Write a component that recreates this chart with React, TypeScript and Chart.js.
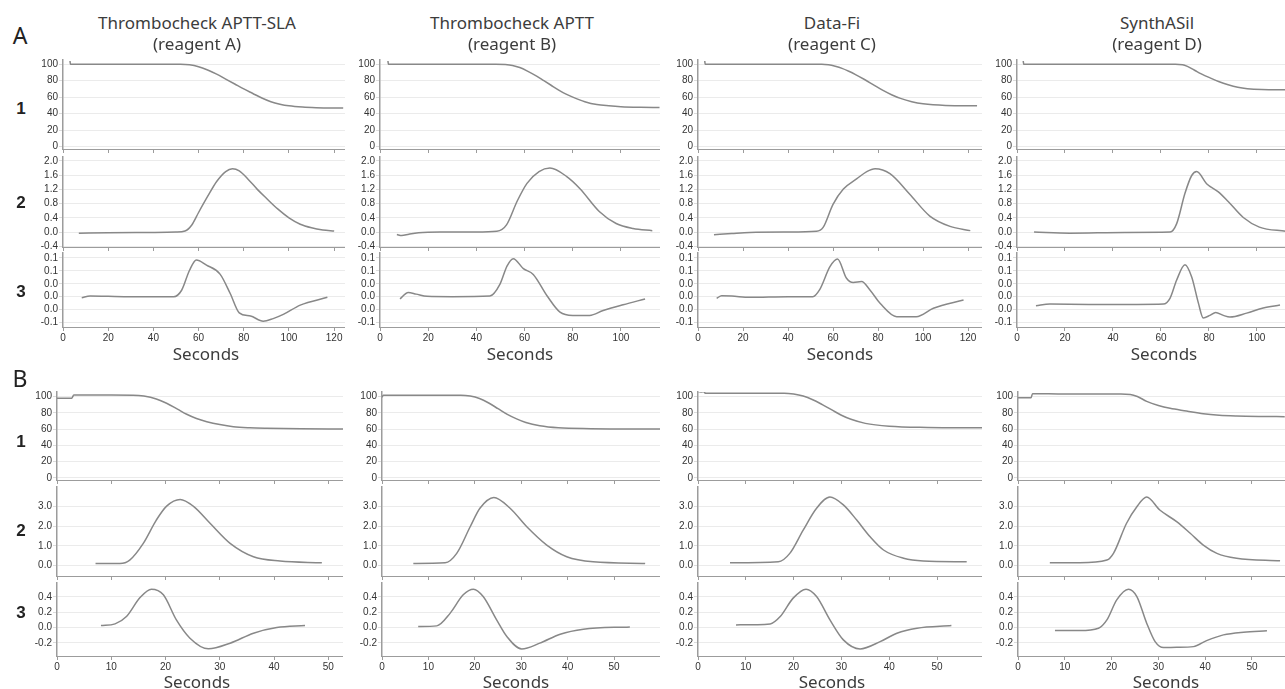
import React, { useEffect, useRef } from "react";
import { Chart, registerables } from "chart.js";

Chart.register(...registerables);

// ---------------- text ----------------
const reagentNames = ["Thrombocheck APTT-SLA", "Thrombocheck APTT", "Data-Fi", "SynthASil"];
const reagentCodes = ["(reagent A)", "(reagent B)", "(reagent C)", "(reagent D)"];
const sectionLetters = ["A", "B"];
const rowNumbers = ["1", "2", "3"];
const xAxisTitle = "Seconds";

// ---------------- ticks ----------------
const secTicksA = [0, 20, 40, 60, 80, 100, 120];
const secTicksAShort = [0, 20, 40, 60, 80, 100];
const secTicksB = [0, 10, 20, 30, 40, 50];
const transTicks = [0, 20, 40, 60, 80, 100];
const transLabels = ["0", "20", "40", "60", "80", "100"];
const velTicksA = [-0.4, 0, 0.4, 0.8, 1.2, 1.6, 2.0];
const velLabelsA = ["-0.4", "0.0", "0.4", "0.8", "1.2", "1.6", "2.0"];
const accTicksA = [-0.08, -0.04, 0, 0.04, 0.08, 0.12];
const accLabelsA = ["-0.1", "0.0", "0.0", "0.0", "0.1", "0.1"];
const velTicksB = [0, 1, 2, 3];
const velLabelsB = ["0.0", "1.0", "2.0", "3.0"];
const accTicksB = [-0.2, 0, 0.2, 0.4];
const accLabelsB = ["-0.2", "0.0", "0.2", "0.4"];

// ---------------- data: section A ----------------
// row 1 = transmittance, row 2 = 1st derivative, row 3 = 2nd derivative
const A1_A_sec = [3.1, 3.3, 10, 30, 52, 56, 60, 64, 68, 72, 76, 80, 84, 88, 92, 96, 100, 106, 112, 124];
const A1_A_val = [104, 100, 100, 100, 100, 99.3, 97, 93, 88, 82, 76, 70, 64.5, 59, 54.5, 51.5, 49.5, 48, 47.3, 46.8];
const A2_A_sec = [7, 20, 40, 50, 54, 57, 60, 64, 68, 72, 75, 78, 82, 86, 90, 95, 100, 105, 110, 115, 120];
const A2_A_val = [-0.03, -0.02, -0.01, 0, 0.03, 0.2, 0.55, 1.0, 1.42, 1.7, 1.78, 1.72, 1.48, 1.2, 0.95, 0.65, 0.4, 0.22, 0.12, 0.06, 0.03];
const A3_A_sec = [8.3, 12, 20, 30, 40, 49, 52.5, 56, 59, 63.5, 69.5, 74, 78, 83, 88.6, 93, 97.5, 105, 117];
const A3_A_val = [-0.003, 0.002, 0.001, 0, 0, 0, 0.02, 0.082, 0.114, 0.098, 0.07, 0.01, -0.05, -0.06, -0.076, -0.068, -0.055, -0.026, -0.002];

const A1_B_sec = [3.3, 3.5, 10, 30, 48, 52, 55, 58, 61, 65, 68, 71, 74, 77, 80, 85, 90, 95, 100, 108, 116];
const A1_B_val = [104, 100, 100, 100, 100, 99.6, 98.5, 96, 92, 85.5, 80, 74.5, 69, 64, 60, 54.5, 51, 49.5, 48.5, 47.8, 47.5];
const A2_B_sec = [7, 9, 12, 16, 25, 40, 48.5, 52.5, 57, 61, 66, 70.5, 77.5, 83, 91, 98, 105, 113];
const A2_B_val = [-0.07, -0.1, -0.06, -0.02, 0, 0, 0.02, 0.2, 0.88, 1.37, 1.7, 1.8, 1.56, 1.22, 0.58, 0.24, 0.1, 0.04];
const A3_B_sec = [8.3, 11.7, 15, 19.5, 30, 45.6, 49.8, 52.7, 55.3, 59.5, 63.6, 69.3, 74.7, 80, 87, 92.6, 100.9, 110];
const A3_B_val = [-0.007, 0.013, 0.008, 0.001, 0, 0.002, 0.039, 0.095, 0.118, 0.087, 0.069, 0.003, -0.048, -0.058, -0.058, -0.043, -0.025, -0.007];

const A1_C_sec = [3, 3.2, 10, 30, 55, 58, 61, 64, 67, 70, 74, 78, 82, 86, 90, 95, 100, 110, 124];
const A1_C_val = [104, 100, 100, 100, 100, 99.3, 97.5, 95, 91.5, 87.5, 81.5, 75, 68.5, 63, 58.5, 54.5, 52, 50, 49.5];
const A2_C_sec = [7.1, 15, 23, 40, 52.7, 55.6, 60, 64.6, 70.6, 75, 78.7, 85.3, 94, 103, 112, 121];
const A2_C_val = [-0.075, -0.04, -0.01, 0, 0.02, 0.13, 0.78, 1.21, 1.5, 1.7, 1.78, 1.64, 1.07, 0.45, 0.16, 0.04];
const A3_C_sec = [8.3, 10.5, 15, 23, 40, 51, 54, 58.7, 62, 66, 69, 72.7, 76.4, 81, 88.3, 97, 104.6, 118];
const A3_C_val = [-0.005, 0.003, 0.002, -0.002, 0, 0, 0.021, 0.094, 0.117, 0.057, 0.044, 0.047, 0.021, -0.021, -0.062, -0.062, -0.036, -0.01];

const A1_D_sec = [2.6, 2.8, 10, 40, 66, 69, 71, 73, 75, 77, 80, 84, 88, 92, 96, 102, 112];
const A1_D_val = [104, 100, 100, 100, 100, 99.5, 97.5, 94.5, 91, 88, 84, 79, 75, 72, 70.3, 69.3, 69];
const A2_D_sec = [7.1, 22, 45, 63.8, 66.5, 70, 72.8, 74.9, 79, 83.9, 88, 94.3, 101, 112];
const A2_D_val = [0, -0.03, -0.01, 0, 0.23, 1.09, 1.59, 1.7, 1.36, 1.13, 0.86, 0.41, 0.14, 0.02];
const A3_D_sec = [7.9, 13.75, 30, 50, 61, 63.75, 66.5, 70, 72.8, 75.6, 77.6, 80.4, 82.8, 86, 88.75, 95.7, 102.6, 109.6];
const A3_D_val = [-0.028, -0.023, -0.024, -0.024, -0.023, -0.005, 0.051, 0.099, 0.061, -0.02, -0.066, -0.058, -0.049, -0.058, -0.063, -0.051, -0.035, -0.026];

// ---------------- data: section B ----------------
const B1_A_sec = [0, 2.7, 3.1, 10, 14, 16, 18.3, 20.2, 22.2, 23.9, 25.7, 27.6, 30, 32.5, 35.5, 38.6, 45, 52.7];
const B1_A_val = [97.8, 97.8, 101.8, 101.8, 101.6, 100.5, 97, 91.7, 84.5, 78.2, 73, 69.1, 65.5, 62.9, 61.6, 61, 60.4, 60.1];
const B2_A_sec = [7.1, 11.6, 13.4, 15.9, 18.3, 20.2, 22.7, 25.1, 28.2, 31.9, 36.2, 41.1, 48.8];
const B2_A_val = [0.11, 0.11, 0.28, 1.13, 2.31, 3.02, 3.36, 3.02, 2.15, 1.13, 0.45, 0.23, 0.14];
const B3_A_sec = [8.1, 10.7, 12.8, 15.3, 17.4, 19.6, 22, 24.5, 27.9, 31.9, 36.2, 40.5, 45.7];
const B3_A_val = [0.026, 0.048, 0.143, 0.39, 0.5, 0.426, 0.1, -0.138, -0.277, -0.203, -0.073, 0, 0.026];

const B1_B_sec = [0, 0.3, 10, 17, 19, 21, 23, 25, 27, 29, 31, 34, 38, 45, 60];
const B1_B_val = [99, 101.5, 101.5, 101.5, 100.5, 97.5, 92, 85, 78, 72.5, 68, 64, 61.5, 60.5, 60];
const B2_B_sec = [6.75, 13.6, 16.1, 19, 21.1, 24.1, 27.6, 31.2, 35.5, 39.8, 45.5, 56.7];
const B2_B_val = [0.11, 0.14, 0.62, 1.97, 2.91, 3.46, 2.91, 1.97, 1.04, 0.45, 0.19, 0.11];
const B3_B_sec = [7.8, 11.8, 14.7, 17.5, 19.7, 21.8, 24.7, 26.9, 30.1, 34, 38.4, 43.4, 53.4];
const B3_B_val = [0.013, 0.022, 0.188, 0.426, 0.5, 0.404, 0.1, -0.117, -0.278, -0.203, -0.086, -0.021, 0.009];

const B1_C_sec = [0, 1.3, 1.5, 10, 18, 20, 22, 24, 26, 28, 30, 32, 35, 40, 48, 59.4];
const B1_C_val = [106, 106, 104, 104, 104, 103, 100.5, 96, 90, 83.5, 77, 72, 67, 63.5, 62, 61.5];
const B2_C_sec = [6.7, 16.8, 19.2, 22, 24.8, 27.6, 30.4, 33.2, 36, 38.8, 43, 47.1, 56.2];
const B2_C_val = [0.14, 0.19, 0.62, 1.8, 2.91, 3.48, 3.08, 2.31, 1.46, 0.79, 0.37, 0.23, 0.19];
const B3_C_sec = [7.95, 15.1, 17.2, 19.9, 22.6, 24.8, 27.6, 30.4, 33.9, 38.1, 41.6, 45.8, 53];
const B3_C_val = [0.035, 0.048, 0.143, 0.383, 0.5, 0.404, 0.1, -0.16, -0.278, -0.183, -0.073, -0.008, 0.026];

const B1_D_sec = [0, 2.8, 3.1, 10, 22, 24, 25.5, 27.5, 30, 32.5, 36, 39.6, 43, 46.7, 52, 57];
const B1_D_val = [98.5, 98.5, 103.5, 103, 103, 102.5, 100, 94, 89, 85.5, 82.2, 78.8, 77, 76.1, 75.5, 75.2];
const B2_D_sec = [6.8, 13.2, 19, 20.4, 23.2, 25.4, 27.5, 30.3, 33.9, 36.8, 39.6, 42.5, 46.7, 56];
const B2_D_val = [0.14, 0.14, 0.28, 0.62, 2.15, 2.99, 3.48, 2.82, 2.23, 1.64, 1.04, 0.62, 0.37, 0.24];
const B3_D_sec = [7.9, 13.2, 17.2, 19, 21.1, 23.6, 25.4, 27.5, 29.3, 31.1, 33.9, 37.5, 40.3, 43.9, 48.2, 53.2];
const B3_D_val = [-0.039, -0.039, -0.008, 0.1, 0.361, 0.5, 0.404, 0.057, -0.183, -0.261, -0.256, -0.248, -0.17, -0.095, -0.06, -0.043];

// ---------------- layout & style ----------------
const CURVE = "#888888";
const AXIS = "#9c9c9c";
const GRID = "#ebebeb";
const TICK_TEXT = "#333333";
const LABEL_TEXT = "#3c3c3c";
const SANS = "'Noto Sans', 'DejaVu Sans', sans-serif";
const TICK_FONT = { family: "'Liberation Sans', Arial, sans-serif", size: 10 };
const YW = 34;
const PAD_TOP = 7;
const XH_SMALL = 5;
const XH_LABELS = 17;

const SECTIONS = [
  {
    axisX: [63, 380, 698, 1017],
    right: [345, 660, 982, 1310],
    xMax: [124.8, 116.2, 126.2, 122.1],
    xTicks: [secTicksA, secTicksAShort, secTicksA, secTicksA],
    rows: [[60, 149], [157, 247], [253, 327]],
    yRange: [[-3, 105.2], [-0.42, 2.11], [-0.094, 0.1355]],
    yTicks: [transTicks, velTicksA, accTicksA],
    yLabels: [transLabels, velLabelsA, accLabelsA],
    data: [
      [[A1_A_sec, A1_A_val], [A1_B_sec, A1_B_val], [A1_C_sec, A1_C_val], [A1_D_sec, A1_D_val]],
      [[A2_A_sec, A2_A_val], [A2_B_sec, A2_B_val], [A2_C_sec, A2_C_val], [A2_D_sec, A2_D_val]],
      [[A3_A_sec, A3_A_val], [A3_B_sec, A3_B_val], [A3_C_sec, A3_C_val], [A3_D_sec, A3_D_val]],
    ],
    letterY: 35,
    rowLabelY: [108, 202, 290.5],
    secondsY: 353,
    secondsX: [206, 520, 840, 1164],
  },
  {
    axisX: [57, 382, 698, 1018],
    right: [343, 660, 982, 1310],
    xMax: [52.7, 59.9, 59.4, 62.4],
    xTicks: [secTicksB, secTicksB, secTicksB, secTicksB],
    rows: [[392, 480], [487, 576], [583, 656]],
    yRange: [[-2.5, 105.5], [-0.53, 3.99], [-0.37, 0.58]],
    yTicks: [transTicks, velTicksB, accTicksB],
    yLabels: [transLabels, velLabelsB, accLabelsB],
    data: [
      [[B1_A_sec, B1_A_val], [B1_B_sec, B1_B_val], [B1_C_sec, B1_C_val], [B1_D_sec, B1_D_val]],
      [[B2_A_sec, B2_A_val], [B2_B_sec, B2_B_val], [B2_C_sec, B2_C_val], [B2_D_sec, B2_D_val]],
      [[B3_A_sec, B3_A_val], [B3_B_sec, B3_B_val], [B3_C_sec, B3_C_val], [B3_D_sec, B3_D_val]],
    ],
    letterY: 378,
    rowLabelY: [440.5, 529.5, 611.5],
    secondsY: 680.5,
    secondsX: [197, 516, 832, 1166],
  },
];

const TITLE_X = [197, 512, 832, 1157];

type PanelSpec = {
  key: string;
  left: number;
  top: number;
  width: number;
  height: number;
  sec: number[];
  val: number[];
  xMax: number;
  xTicks: number[];
  yMin: number;
  yMax: number;
  yTicks: number[];
  yLabels: string[];
  showX: boolean;
  xh: number;
};

const PANELS: PanelSpec[] = [];
SECTIONS.forEach((s, si) => {
  s.rows.forEach((box, ri) => {
    s.axisX.forEach((ax, ci) => {
      const xh = ri === 2 ? XH_LABELS : XH_SMALL;
      const left = ax - YW;
      const top = box[0] - PAD_TOP;
      const [sec, val] = s.data[ri][ci];
      PANELS.push({
        key: `${si}-${ri}-${ci}`,
        left,
        top,
        width: s.right[ci] - left,
        height: box[1] - box[0] + PAD_TOP + xh,
        sec,
        val,
        xMax: s.xMax[ci],
        xTicks: s.xTicks[ci],
        yMin: s.yRange[ri][0],
        yMax: s.yRange[ri][1],
        yTicks: s.yTicks[ri],
        yLabels: s.yLabels[ri],
        showX: ri === 2,
        xh,
      });
    });
  });
});

function buildConfig(p: PanelSpec): any {
  return {
    type: "line",
    data: {
      datasets: [
        {
          data: p.sec.map((s, i) => ({ x: s, y: p.val[i] })),
          borderColor: CURVE,
          borderWidth: 1.5,
          pointRadius: 0,
          fill: false,
          cubicInterpolationMode: "monotone",
        },
      ],
    },
    options: {
      animation: false,
      responsive: false,
      devicePixelRatio: 1,
      events: [],
      layout: { padding: { top: PAD_TOP, right: 0, bottom: 0, left: 0 } },
      plugins: { legend: { display: false }, tooltip: { enabled: false } },
      scales: {
        x: {
          type: "linear",
          min: 0,
          max: p.xMax,
          afterBuildTicks: (s: any) => {
            s.ticks = p.xTicks.map((v) => ({ value: v }));
          },
          afterFit: (s: any) => {
            s.height = p.xh;
            s.paddingLeft = 0;
            s.paddingRight = 0;
          },
          ticks: {
            display: p.showX,
            autoSkip: false,
            maxRotation: 0,
            padding: 1,
            color: TICK_TEXT,
            font: TICK_FONT,
            callback: (v: number) => String(v),
          },
          grid: { drawOnChartArea: false, drawTicks: true, tickLength: 4, color: AXIS, lineWidth: 1 },
          border: { display: true, color: AXIS, width: 1 },
        },
        y: {
          type: "linear",
          min: p.yMin,
          max: p.yMax,
          afterBuildTicks: (s: any) => {
            s.ticks = p.yTicks.map((v) => ({ value: v }));
          },
          afterFit: (s: any) => {
            s.width = YW;
            s.paddingTop = 0;
            s.paddingBottom = 0;
          },
          ticks: {
            autoSkip: false,
            padding: 1,
            color: TICK_TEXT,
            font: TICK_FONT,
            callback: (_v: number, i: number) => p.yLabels[i],
          },
          grid: { color: GRID, lineWidth: 1, tickLength: 4, tickColor: "#dcdcdc" },
          border: { display: true, color: AXIS, width: 1.5 },
        },
      },
    },
  };
}

function PanelCanvas({ spec }: { spec: PanelSpec }) {
  const ref = useRef<HTMLCanvasElement | null>(null);
  useEffect(() => {
    if (!ref.current) return;
    const chart = new Chart(ref.current, buildConfig(spec));
    return () => chart.destroy();
  }, [spec]);
  return (
    <canvas
      ref={ref}
      width={spec.width}
      height={spec.height}
      style={{ position: "absolute", left: spec.left, top: spec.top, width: spec.width, height: spec.height }}
    />
  );
}

function Txt(props: { x: number; y: number; size: number; weight?: number; family?: string; color?: string; children: React.ReactNode }) {
  const { x, y, size, weight = 400, family = SANS, color = LABEL_TEXT, children } = props;
  return (
    <div
      style={{
        position: "absolute",
        left: x,
        top: y,
        transform: "translate(-50%, -50%)",
        fontSize: size,
        fontWeight: weight,
        fontFamily: family,
        color,
        lineHeight: 1,
        whiteSpace: "nowrap",
      }}
    >
      {children}
    </div>
  );
}

export default function App() {
  return (
    <div style={{ position: "fixed", left: 0, top: 0, width: 1285, height: 689, overflow: "hidden", background: "#ffffff" }}>
      {PANELS.map((p) => (
        <PanelCanvas key={p.key} spec={p} />
      ))}
      {reagentNames.map((name, i) => (
        <React.Fragment key={name}>
          <Txt x={TITLE_X[i]} y={22} size={17}>{name}</Txt>
          <Txt x={TITLE_X[i]} y={43} size={17}>{reagentCodes[i]}</Txt>
        </React.Fragment>
      ))}
      {SECTIONS.map((s, si) => (
        <React.Fragment key={si}>
          <Txt x={20} y={s.letterY} size={23} color="#222">{sectionLetters[si]}</Txt>
          {rowNumbers.map((r, ri) => (
            <Txt key={r} x={21} y={s.rowLabelY[ri]} size={17} weight={700} family="'Liberation Sans', Arial, sans-serif" color="#222">
              {r}
            </Txt>
          ))}
          {s.secondsX.map((x, ci) => (
            <Txt key={ci} x={x} y={s.secondsY} size={17}>{xAxisTitle}</Txt>
          ))}
        </React.Fragment>
      ))}
    </div>
  );
}
